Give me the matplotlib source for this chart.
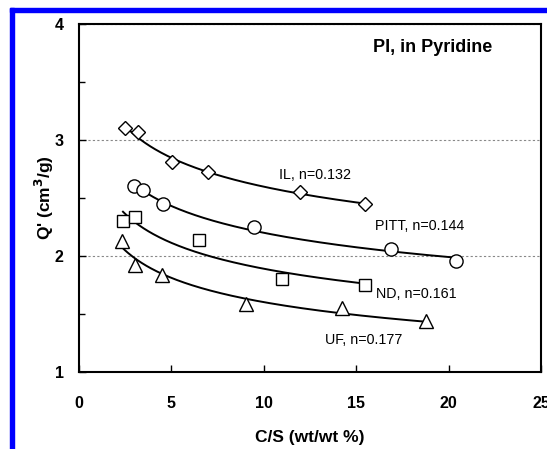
import numpy as np
import matplotlib
matplotlib.use("Agg")
import matplotlib.pyplot as plt
from matplotlib.patches import Rectangle

plt.rcParams['font.family'] = ['Liberation Sans', 'DejaVu Sans']

# data
il_x = [2.49, 3.19, 5.03, 6.97, 11.95, 15.46]
il_y = [3.10, 3.07, 2.81, 2.72, 2.55, 2.45]
pitt_x = [2.97, 3.46, 4.54, 9.46, 16.9, 20.4]
pitt_y = [2.60, 2.57, 2.45, 2.25, 2.06, 1.96]
nd_x = [2.38, 3.03, 6.49, 10.97, 15.46]
nd_y = [2.30, 2.34, 2.14, 1.80, 1.75]
uf_x = [2.32, 3.03, 4.49, 9.03, 14.22, 18.76]
uf_y = [2.13, 1.92, 1.84, 1.59, 1.55, 1.44]
n_vals = {'IL': 0.132, 'PITT': 0.144, 'ND': 0.161, 'UF': 0.177}

fig = plt.figure(figsize=(5.47, 4.49), dpi=100)
ax = fig.add_axes([79/547, 77/449, 462/547, 348/449])

series = [
    ('IL', il_x, il_y, 'D', 7),
    ('PITT', pitt_x, pitt_y, 'o', 9.5),
    ('ND', nd_x, nd_y, 's', 8),
    ('UF', uf_x, uf_y, '^', 10),
]
for name, xs, ys, mk, ms in series:
    xs = np.array(xs); ys = np.array(ys)
    n = n_vals[name]
    a = np.exp(np.mean(np.log(ys) + n * np.log(xs)))
    xf = np.linspace(xs.min(), xs.max(), 200)
    ax.plot(xf, a * xf ** (-n), color='black', lw=1.4, zorder=2)
    ax.plot(xs, ys, linestyle='none', marker=mk, ms=ms, mfc='white',
            mec='black', mew=1.0, zorder=3)

ax.set_xlim(0, 25)
ax.set_ylim(1, 4)
ax.set_xticks([0, 5, 10, 15, 20, 25])
ax.set_yticks([1, 2, 3, 4])
ax.set_yticks([1.5, 2.5, 3.5], minor=True)
ax.tick_params(axis='both', which='both', direction='in', labelsize=11.5)
ax.tick_params(axis='both', which='major', length=5, width=1)
ax.tick_params(axis='y', which='minor', length=4, width=1)
ax.tick_params(axis='x', pad=17)
ax.tick_params(axis='y', pad=11)
for lab in ax.get_xticklabels() + ax.get_yticklabels():
    lab.set_fontweight('bold')
ax.yaxis.grid(True, which='major', linestyle=(0, (2, 2)), color='#888888', lw=0.8)
for s in ax.spines.values():
    s.set_linewidth(1.5)

ax.set_xlabel('C/S (wt/wt %)', fontsize=12.5, fontweight='bold', labelpad=14)
ax.set_ylabel("Q' (cm$^\\mathbf{3}$/g)", fontsize=12.5, fontweight='bold', labelpad=-1)

ax.text(15.9, 3.80, 'PI, in Pyridine', fontsize=13, fontweight='bold', va='center')
ax.text(10.8, 2.70, 'IL, n=0.132', fontsize=10.3, va='center')
ax.text(16.0, 2.26, 'PITT, n=0.144', fontsize=10.3, va='center')
ax.text(16.05, 1.67, 'ND, n=0.161', fontsize=10.3, va='center')
ax.text(13.3, 1.28, 'UF, n=0.177', fontsize=10.3, va='center')

# blue frame (left and top edges)
fig.patches.append(Rectangle((10/547, -0.1), 4/547, 1.1 - 8/449,
                             transform=fig.transFigure, color='#0000ff', zorder=10))
fig.patches.append(Rectangle((10/547, 1 - 12/449), 1.0, 4/449,
                             transform=fig.transFigure, color='#0000ff', zorder=10))

fig.savefig('out.png', dpi=100)
